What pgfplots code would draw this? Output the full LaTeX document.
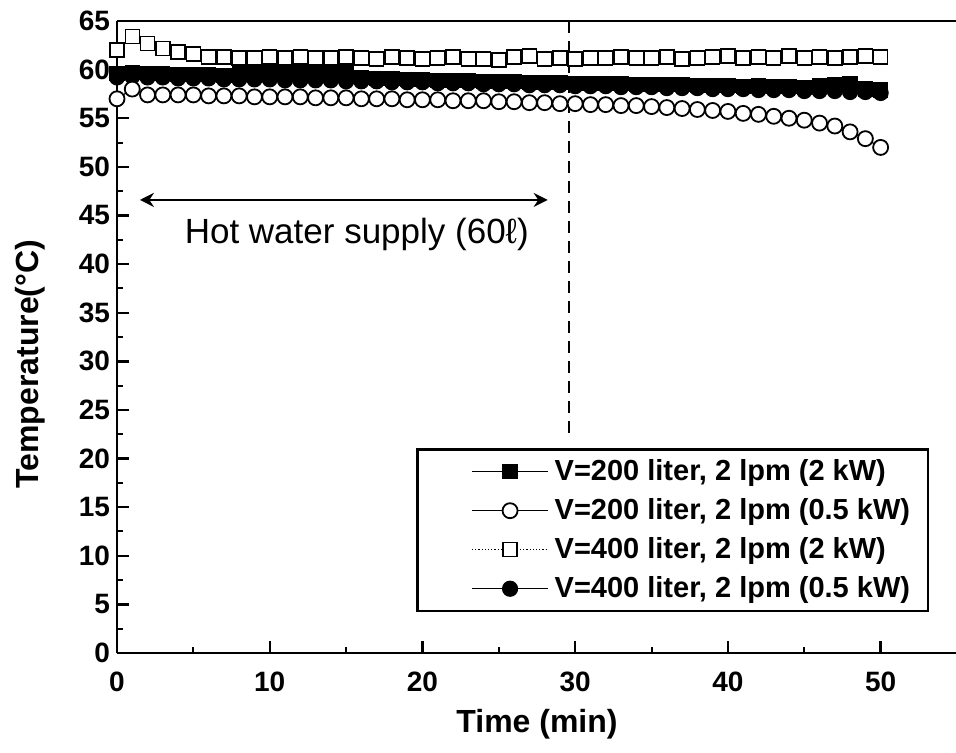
\documentclass[border=0pt]{standalone}
\usepackage{fontspec}
\setmainfont{Liberation Sans}
\usepackage{pgfplots}
\pgfplotsset{compat=1.18}
\usepackage{pgfplotstable}
\usetikzlibrary{arrows.meta}

% t: time (min); a: V=200 2kW; b: V=200 0.5kW; c: V=400 2kW; d: V=400 0.5kW
\pgfplotstableread{
t a b c d
0 59.6 57.0 62.0 59.2
1 59.7 58.0 63.4 59.3
2 59.6 57.4 62.7 59.2
3 59.6 57.4 62.2 59.2
4 59.5 57.4 61.8 59.1
5 59.5 57.4 61.6 59.1
6 59.5 57.3 61.3 59.1
7 59.4 57.3 61.3 59.0
8 59.8 57.3 61.2 59.0
9 59.7 57.2 61.2 59.0
10 59.8 57.2 61.3 59.0
11 59.7 57.2 61.2 58.9
12 59.7 57.2 61.3 58.9
13 59.6 57.1 61.2 58.9
14 59.7 57.1 61.2 58.9
15 59.8 57.1 61.3 58.8
16 59.2 57.0 61.2 58.8
17 59.1 57.0 61.1 58.8
18 59.1 57.0 61.3 58.7
19 59.0 56.9 61.2 58.7
20 59.0 56.9 61.1 58.7
21 58.9 56.9 61.2 58.6
22 58.9 56.8 61.3 58.6
23 58.9 56.8 61.1 58.6
24 58.8 56.8 61.1 58.5
25 58.8 56.7 61.0 58.5
26 58.8 56.7 61.3 58.5
27 58.7 56.6 61.4 58.4
28 58.7 56.6 61.1 58.4
29 58.7 56.5 61.2 58.4
30 58.6 56.5 61.1 58.3
31 58.6 56.4 61.2 58.3
32 58.6 56.4 61.2 58.3
33 58.6 56.3 61.3 58.2
34 58.5 56.3 61.2 58.2
35 58.5 56.2 61.2 58.2
36 58.5 56.1 61.3 58.1
37 58.5 56.0 61.1 58.1
38 58.4 55.9 61.2 58.1
39 58.4 55.8 61.3 58.0
40 58.4 55.7 61.4 58.0
41 58.3 55.5 61.2 58.0
42 58.4 55.4 61.3 57.9
43 58.3 55.2 61.2 57.9
44 58.3 55.0 61.4 57.9
45 58.2 54.8 61.2 57.8
46 58.4 54.5 61.3 57.8
47 58.5 54.2 61.2 57.8
48 58.6 53.6 61.3 57.7
49 58.0 52.9 61.4 57.7
50 57.9 52.0 61.3 57.6
}\datatable

\begin{document}
\begin{tikzpicture}
\begin{axis}[
  scale only axis,
  width=420pt, height=316pt,
  xmin=0, xmax=55, ymin=0, ymax=65,
  axis x line*=box, axis y line*=left,
  xtick={0,10,...,50}, minor xtick={5,15,...,45},
  ytick={0,5,...,65}, minor ytick={2.5,7.5,...,62.5},
  xtick pos=lower, ytick pos=left,
  tick align=inside,
  major tick length=6pt, minor tick length=3pt,
  every tick/.style={black, line width=1.2pt},
  every minor tick/.style={black, line width=1.0pt},
  axis line style={line width=1.2pt},
  /pgf/number format/assume math mode=true,
  ticklabel style={font=\bfseries\fontsize{14}{14}\selectfont},
  xticklabel style={anchor=center, yshift=-14.5pt},
  xlabel={Time (min)},
  ylabel={Temperature(°C)},
  xlabel style={font=\bfseries\fontsize{16}{16}\selectfont, at={(axis description cs:0.5,0)}, anchor=center, yshift=-35.5pt},
  ylabel style={font=\bfseries\fontsize{16}{16}\selectfont, at={(axis description cs:-0.1036,0.457)}, anchor=center},
  legend image code/.code={\path (-21pt,0pt); \draw[mark repeat=2,mark phase=2,#1] plot coordinates {(0pt,0pt)(19pt,0pt)(38pt,0pt)};},
  legend cell align=left,
  legend style={at={(axis description cs:0.967,0.065)}, anchor=south east,
    font=\bfseries\fontsize{14.5}{14.5}\selectfont, line width=1.2pt,
    inner xsep=6pt, inner ysep=3pt, row sep=3.5pt,
    nodes={inner xsep=3pt}},
  clip=false,
]
\addlegendimage{black, line width=0.6pt, mark=square*, mark size=3.5pt, mark options={solid, fill=black}}
\addlegendentry{V=200 liter, 2 lpm (2 kW)}
\addlegendimage{black, line width=0.6pt, mark=*, mark size=3.75pt, mark options={solid, fill=white, line width=0.9pt}}
\addlegendentry{V=200 liter, 2 lpm (0.5 kW)}
\addlegendimage{black, line width=0.6pt, densely dotted, mark=square*, mark size=3.5pt, mark options={solid, fill=white, line width=0.7pt}}
\addlegendentry{V=400 liter, 2 lpm (2 kW)}
\addlegendimage{black, line width=0.6pt, mark=*, mark size=3.75pt, mark options={solid, fill=black}}
\addlegendentry{V=400 liter, 2 lpm (0.5 kW)}

\addplot[forget plot, black, line width=0.6pt, mark=square*, mark size=3.5pt, mark options={solid, fill=black}] table[x=t, y=a] {\datatable};
\addplot[forget plot, black, line width=0.6pt, mark=*, mark size=3.75pt, mark options={solid, fill=black}] table[x=t, y=d] {\datatable};
\addplot[forget plot, black, line width=0.6pt, densely dotted, mark=square*, mark size=3.5pt, mark options={solid, fill=white, line width=0.7pt}] table[x=t, y=c] {\datatable};
\addplot[forget plot, black, line width=0.6pt, mark=*, mark size=3.75pt, mark options={solid, fill=white, line width=0.9pt}] table[x=t, y=b] {\datatable};

\draw[black, line width=1.2pt, dash pattern=on 6pt off 4pt] (axis cs:29.6,65) -- (axis cs:29.6,22);
\draw[black, line width=1.1pt, {Stealth[length=7pt,width=7pt]}-{Stealth[length=7pt,width=7pt]}] (axis cs:1.5,46.6) -- (axis cs:28.2,46.6);
\node[font=\fontsize{17.5}{20}\selectfont] at (axis cs:15.7,43.0) {Hot water supply (60ℓ)};
\end{axis}
\pgfresetboundingbox
\path (current axis.south west) ++(-58.5pt,-49.5pt) rectangle ++(478pt,376pt);
\end{tikzpicture}
\end{document}
